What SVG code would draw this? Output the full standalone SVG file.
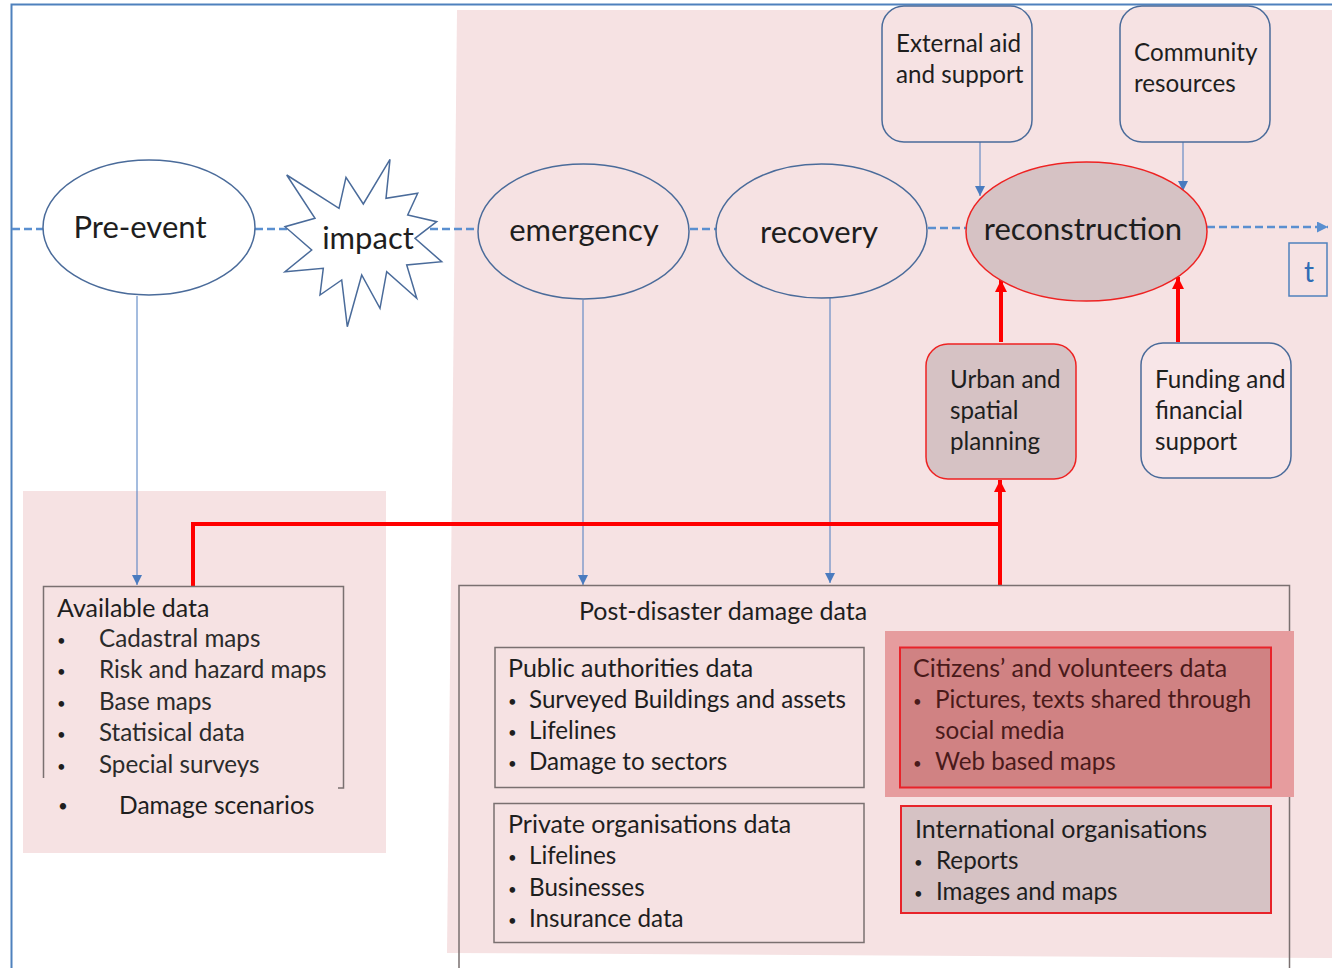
<svg xmlns="http://www.w3.org/2000/svg" width="1332" height="968" viewBox="0 0 1332 968">
<defs>
<style>
text{font-family:Lato,"Liberation Sans",sans-serif;fill:#1e1e1e}
.big{font-size:31px}
.hd{font-size:25px}
.box{font-size:24.2px}
.lst{font-size:24.2px;fill:#2b2b2b}
.bul{font-size:15px}
.ell{fill:none;stroke:#4a6b9a;stroke-width:1.5}
.rbox{stroke:#4a6b9a;stroke-width:1.5}
.dash{stroke:#5a8fd0;stroke-width:2.5;stroke-dasharray:8 4;fill:none}
.thin{stroke:#4a7bbf;stroke-width:1;fill:none}
.red{stroke:#ff0000;stroke-width:4;fill:none}
.gbox{fill:none;stroke:#7a7070;stroke-width:1.5}
.cit{fill:#4a1a1a}
</style>
<marker id="ab" viewBox="0 0 10 10" refX="10" refY="5" markerWidth="10" markerHeight="10" markerUnits="userSpaceOnUse" orient="auto"><path d="M0,0 L10,5 L0,10 z" fill="#4a7bbf"/></marker>
<marker id="ad" viewBox="0 0 10 10" refX="10" refY="5" markerWidth="11" markerHeight="11" markerUnits="userSpaceOnUse" orient="auto"><path d="M0,0 L10,5 L0,10 z" fill="#5a8fd0"/></marker>
<marker id="ar" viewBox="0 0 10 10" refX="10" refY="5" markerWidth="12" markerHeight="12" markerUnits="userSpaceOnUse" orient="auto"><path d="M0,0 L10,5 L0,10 z" fill="#ff0000"/></marker>
</defs>
<rect width="1332" height="968" fill="#ffffff"/>
<polygon points="457,10 1332,10 1332,958 447,953" fill="#f6e2e3"/>
<rect x="23" y="491" width="363" height="362" fill="#f6e2e3"/>
<path d="M11.5,968 L11.5,4.5 L1332,4.5" fill="none" stroke="#4f81bd" stroke-width="2"/>

<g id="connectors">
<path class="dash" d="M12,229 L43,229"/>
<path class="dash" d="M255,229 L292,229"/>
<path class="dash" d="M430,229 L478,229"/>
<path class="dash" d="M690,229 L716,229"/>
<path class="dash" d="M928,228 L966,228"/>
<path class="dash" d="M1207,227 L1328,227" marker-end="url(#ad)"/>
<path class="thin" d="M137,296 L137,585" marker-end="url(#ab)"/>
<path class="thin" d="M583,300 L583,585" marker-end="url(#ab)"/>
<path class="thin" d="M830,298 L830,583" marker-end="url(#ab)"/>
<path class="thin" d="M980,142 L980,196" marker-end="url(#ab)"/>
<path class="thin" d="M1183,142 L1183,191" marker-end="url(#ab)"/>
<path class="red" d="M193,586 L193,524 L1000,524"/>
<path class="red" d="M1000,586 L1000,480" marker-end="url(#ar)"/>
<path class="red" d="M1001,342 L1001,280" marker-end="url(#ar)"/>
<path class="red" d="M1178,342 L1178,277" marker-end="url(#ar)"/>
</g>

<g id="pre-event">
<ellipse cx="149" cy="227.5" rx="106" ry="67.5" fill="#ffffff" stroke="#4a6b9a" stroke-width="1.5"/>
<text class="big" x="140" y="238" text-anchor="middle">Pre-event</text>
</g>
<g id="impact">
<polygon points="286.7,175 339,208.3 346,177.3 363.3,204 390,159.3 386,198.3 417.7,193.3 407.7,215 436.7,221.7 415,238.3 441.7,261.7 406.7,265 416.7,298.3 386.7,271.7 380,308.3 361.7,275 347.3,326.7 341.7,280 320,295 323.3,268.3 285,271.7 311.7,250 285,226.7 315,218.3" fill="#ffffff" stroke="#4a6b9a" stroke-width="1.5"/>
<text class="big" x="368" y="249" text-anchor="middle">impact</text>
</g>
<g id="emergency">
<ellipse class="ell" cx="583.5" cy="231.5" rx="105.5" ry="67.5"/>
<text class="big" x="584" y="241" text-anchor="middle">emergency</text>
</g>
<g id="recovery">
<ellipse class="ell" cx="821.5" cy="231" rx="105.5" ry="67"/>
<text class="big" x="819" y="243" text-anchor="middle">recovery</text>
</g>
<g id="reconstruction">
<ellipse cx="1086.5" cy="231.5" rx="120.5" ry="69.5" fill="#d6c2c4" stroke="#ee2222" stroke-width="1.5"/>
<text class="big" x="1083" y="240" text-anchor="middle">reconstruction</text>
</g>
<g id="external-aid">
<rect class="rbox" x="882" y="6" width="150" height="136" rx="22" fill="#f6e2e3"/>
<text class="box" x="896" y="52">External aid</text>
<text class="box" x="896" y="83">and support</text>
</g>
<g id="community">
<rect class="rbox" x="1120" y="6" width="150" height="136" rx="22" fill="#f6e2e3"/>
<text class="box" x="1134" y="61">Community</text>
<text class="box" x="1134" y="92">resources</text>
</g>
<g id="t-label">
<rect x="1289" y="243" width="38" height="53" fill="none" stroke="#4f81bd" stroke-width="1.5"/>
<text x="1309" y="282" text-anchor="middle" style="font-size:28px;fill:#2f6db5">t</text>
</g>
<g id="urban">
<rect x="926" y="344" width="150" height="135" rx="22" fill="#d6c2c4" stroke="#ee2222" stroke-width="1.5"/>
<text class="box" x="950" y="388">Urban and</text>
<text class="box" x="950" y="419">spatial</text>
<text class="box" x="950" y="450">planning</text>
</g>
<g id="funding">
<rect class="rbox" x="1141" y="343" width="150" height="135" rx="22" fill="#f8e6e8"/>
<text class="box" x="1155" y="388">Funding and</text>
<text class="box" x="1155" y="419">financial</text>
<text class="box" x="1155" y="450">support</text>
</g>
<g id="available-data">
<path class="gbox" d="M43.5,778 L43.5,586.5 L343.5,586.5 L343.5,788 L338,788"/>
<text class="hd" x="57" y="617">Available data</text>
<text class="bul" x="57" y="646">•</text><text class="lst" x="99" y="647">Cadastral maps</text>
<text class="bul" x="57" y="677">•</text><text class="lst" x="99" y="678">Risk and hazard maps</text>
<text class="bul" x="57" y="709">•</text><text class="lst" x="99" y="710">Base maps</text>
<text class="bul" x="57" y="740">•</text><text class="lst" x="99" y="741">Statisical data</text>
<text class="bul" x="57" y="772">•</text><text class="lst" x="99" y="773">Special surveys</text>
<text class="bul" x="58" y="812" style="font-size:17px">•</text><text class="hd" x="119" y="814" style="font-size:24.6px">Damage scenarios</text>
</g>
<g id="post-disaster">
<path class="gbox" d="M459,968 L459,585.5 L1289.5,585.5 L1289.5,968"/>
<text class="hd" x="579" y="620">Post-disaster damage data</text>
</g>
<g id="public-authorities">
<rect class="gbox" x="495" y="647.5" width="369" height="140"/>
<text class="hd" x="508" y="677">Public authorities data</text>
<text class="bul" x="508" y="707">•</text><text class="box" x="529" y="708">Surveyed Buildings and assets</text>
<text class="bul" x="508" y="738">•</text><text class="box" x="529" y="739">Lifelines</text>
<text class="bul" x="508" y="769">•</text><text class="box" x="529" y="770">Damage to sectors</text>
</g>
<g id="private-organisations">
<rect class="gbox" x="494" y="803.5" width="370" height="139"/>
<text class="hd" x="508" y="833">Private organisations data</text>
<text class="bul" x="508" y="863">•</text><text class="box" x="529" y="864">Lifelines</text>
<text class="bul" x="508" y="895">•</text><text class="box" x="529" y="896">Businesses</text>
<text class="bul" x="508" y="926">•</text><text class="box" x="529" y="927">Insurance data</text>
</g>
<g id="citizens">
<rect x="885" y="631" width="409" height="166" fill="#e69c9e"/>
<rect x="900" y="647.5" width="371" height="140" fill="#d08283" stroke="#e8232a" stroke-width="2"/>
<text class="hd cit" x="913" y="677">Citizens’ and volunteers data</text>
<text class="bul cit" x="913" y="707">•</text><text class="box cit" x="935" y="708">Pictures, texts shared through</text>
<text class="box cit" x="935" y="739">social media</text>
<text class="bul cit" x="913" y="769">•</text><text class="box cit" x="935" y="770">Web based maps</text>
</g>
<g id="international">
<rect x="901" y="806" width="370" height="107" fill="#d6c2c4" stroke="#e8232a" stroke-width="2"/>
<text class="hd" x="915" y="838">International organisations</text>
<text class="bul" x="914" y="868">•</text><text class="box" x="936" y="869">Reports</text>
<text class="bul" x="914" y="899">•</text><text class="box" x="936" y="900">Images and maps</text>
</g>
</svg>
